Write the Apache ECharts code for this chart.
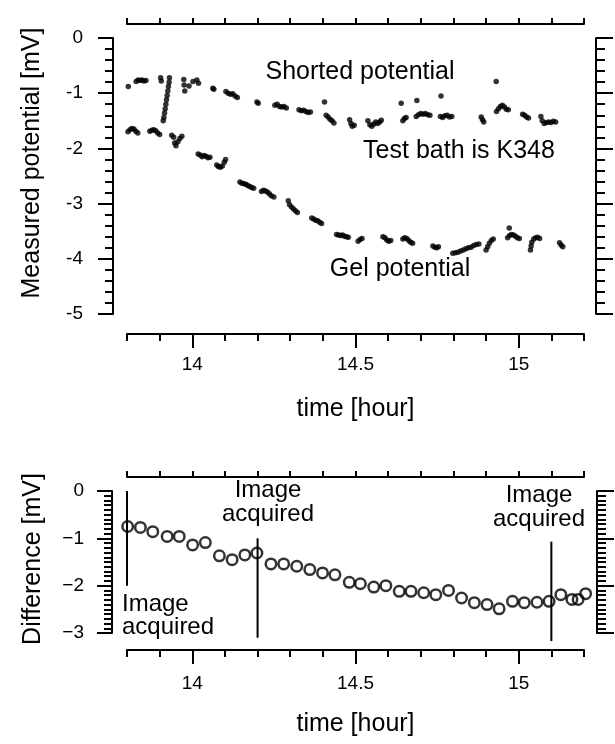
<!DOCTYPE html>
<html>
<head>
<meta charset="utf-8">
<script src="https://cdn.jsdelivr.net/npm/echarts@6/dist/echarts.min.js"></script>
<style>
  html, body { margin: 0; padding: 0; background: #fff; }
  #chart { width: 615px; height: 744px; }
</style>
</head>
<body>
<div id="chart"></div>
<script>
// Shorted electrode potential, [time (hour), potential (mV)]
const shortedPotential = [
  [13.804,-0.88],
  [13.828,-0.79],[13.834,-0.76],[13.840,-0.77],[13.846,-0.76],[13.852,-0.78],[13.858,-0.77],
  [13.903,-0.72],[13.905,-0.78],
  [13.930,-0.72],[13.929,-0.80],[13.927,-0.88],[13.925,-0.96],[13.923,-1.04],[13.921,-1.12],
  [13.919,-1.20],[13.917,-1.28],[13.915,-1.36],[13.913,-1.44],[13.911,-1.50],
  [13.974,-0.75],[13.975,-0.85],[13.977,-0.96],[13.990,-0.87],[14.002,-0.79],[14.014,-0.76],[14.019,-0.82],
  [14.063,-0.91],[14.066,-0.93],
  [14.103,-0.97],[14.110,-1.00],[14.117,-1.02],[14.124,-1.01],[14.131,-1.05],[14.138,-1.08],
  [14.198,-1.16],[14.202,-1.18],
  [14.253,-1.22],[14.260,-1.20],[14.267,-1.24],[14.274,-1.25],[14.281,-1.24],[14.288,-1.27],
  [14.327,-1.30],[14.334,-1.32],[14.341,-1.31],[14.348,-1.33],[14.355,-1.35],[14.362,-1.34],
  [14.405,-1.16],
  [14.410,-1.40],[14.416,-1.43],[14.422,-1.47],[14.428,-1.50],[14.434,-1.54],
  [14.482,-1.48],[14.486,-1.55],[14.490,-1.60],[14.496,-1.58],
  [14.538,-1.50],[14.544,-1.57],[14.550,-1.60],[14.556,-1.56],[14.562,-1.52],[14.568,-1.55],[14.574,-1.52],[14.579,-1.49],
  [14.640,-1.18],
  [14.645,-1.50],[14.650,-1.46],[14.655,-1.44],
  [14.688,-1.13],
  [14.686,-1.42],[14.693,-1.39],[14.700,-1.37],[14.707,-1.38],[14.714,-1.37],[14.721,-1.39],[14.728,-1.40],
  [14.762,-1.05],
  [14.760,-1.42],[14.767,-1.44],[14.774,-1.41],[14.781,-1.40],[14.788,-1.43],[14.795,-1.42],
  [14.885,-1.43],[14.889,-1.48],[14.893,-1.52],
  [14.931,-0.79],
  [14.932,-1.33],[14.938,-1.28],[14.944,-1.24],[14.950,-1.22],[14.956,-1.25],[14.962,-1.29],[14.968,-1.30],
  [15.012,-1.38],[15.018,-1.40],[15.024,-1.43],[15.030,-1.45],
  [15.068,-1.42],[15.072,-1.50],[15.078,-1.55],[15.085,-1.53],[15.092,-1.52],[15.099,-1.53],[15.106,-1.51],[15.113,-1.52]
];

// Gel electrode potential, [time (hour), potential (mV)]
const gelPotential = [
  [13.803,-1.70],[13.809,-1.66],[13.815,-1.64],[13.821,-1.65],[13.827,-1.69],[13.833,-1.72],
  [13.870,-1.69],[13.876,-1.67],[13.882,-1.66],[13.888,-1.68],[13.894,-1.72],[13.900,-1.75],
  [13.937,-1.76],[13.943,-1.80],[13.946,-1.90],[13.950,-1.95],[13.956,-1.88],[13.962,-1.82],[13.968,-1.78],
  [14.018,-2.10],[14.024,-2.12],[14.030,-2.15],[14.036,-2.13],[14.042,-2.14],[14.048,-2.17],[14.054,-2.16],
  [14.075,-2.30],[14.080,-2.33],[14.086,-2.34],[14.092,-2.32],[14.098,-2.25],[14.102,-2.20],
  [14.146,-2.61],[14.152,-2.63],[14.158,-2.64],[14.164,-2.65],[14.170,-2.67],[14.176,-2.69],[14.182,-2.71],[14.188,-2.72],
  [14.212,-2.78],[14.218,-2.76],[14.224,-2.77],[14.230,-2.79],[14.236,-2.82],[14.242,-2.86],[14.250,-2.88],
  [14.294,-2.95],[14.298,-3.02],[14.304,-3.06],[14.310,-3.10],[14.316,-3.13],[14.322,-3.16],
  [14.366,-3.26],[14.372,-3.28],[14.378,-3.30],[14.384,-3.31],[14.390,-3.34],[14.396,-3.36],
  [14.442,-3.56],[14.448,-3.57],[14.454,-3.58],[14.460,-3.57],[14.466,-3.59],[14.472,-3.60],[14.478,-3.61],
  [14.508,-3.68],[14.514,-3.65],[14.520,-3.63],
  [14.584,-3.60],[14.590,-3.62],[14.596,-3.66],[14.602,-3.68],[14.608,-3.67],
  [14.645,-3.64],[14.651,-3.62],[14.657,-3.63],[14.663,-3.67],[14.669,-3.70],[14.675,-3.72],
  [14.737,-3.77],[14.743,-3.79],[14.749,-3.80],[14.754,-3.78],
  [14.798,-3.90],[14.806,-3.89],[14.814,-3.88],[14.822,-3.86],[14.830,-3.84],[14.838,-3.82],
  [14.846,-3.80],[14.854,-3.79],[14.862,-3.76],[14.870,-3.74],[14.878,-3.73],
  [14.900,-3.84],[14.905,-3.78],[14.910,-3.72],[14.916,-3.67],[14.922,-3.64],
  [14.971,-3.44],
  [14.966,-3.62],[14.972,-3.58],[14.978,-3.56],[14.984,-3.57],[14.990,-3.59],[14.996,-3.62],[15.002,-3.63],
  [15.036,-3.84],[15.038,-3.77],[15.040,-3.70],[15.046,-3.64],[15.052,-3.62],[15.058,-3.61],[15.064,-3.63],
  [15.125,-3.71],[15.130,-3.75],[15.135,-3.78]
];

// Gel minus shorted potential
const differenceTime = [
  13.802, 13.841, 13.879, 13.923, 13.960, 14.001, 14.040, 14.083, 14.122, 14.161,
  14.198, 14.241, 14.280, 14.320, 14.360, 14.399, 14.437, 14.481, 14.515, 14.556,
  14.593, 14.634, 14.670, 14.709, 14.746, 14.785, 14.825, 14.864, 14.903, 14.940,
  14.981, 15.017, 15.056, 15.093, 15.129, 15.163, 15.182, 15.205
];
const differenceValue = [
  -0.75, -0.77, -0.86, -0.96, -0.96, -1.14, -1.09, -1.37, -1.45, -1.35,
  -1.31, -1.54, -1.54, -1.59, -1.66, -1.73, -1.77, -1.93, -1.96, -2.03,
  -2.00, -2.12, -2.12, -2.15, -2.19, -2.10, -2.26, -2.36, -2.40, -2.49,
  -2.33, -2.36, -2.35, -2.33, -2.19, -2.29, -2.29, -2.17
];

// Moments an image was acquired, with the vertical extent of each marker line (mV)
const acquiredTimes = [13.8, 14.2, 15.1];
const acquiredFrom = [0, -1.0, -1.07];
const acquiredTo = [-2.0, -3.1, -3.17];

// Axis ranges and labelled time ticks
const timeRange = [13.8, 15.2];
const timeLabelTicks = [14, 14.5, 15];
const potentialRange = [-5, 0];
const differenceRange = [-3, 0];

const FONT = '"Liberation Sans", Arial, Helvetica, sans-serif';
const INK = '#000';
const LINE_W = 2;
const TICK_FONT = 19;

const chart = echarts.init(document.getElementById('chart'), null, { renderer: 'canvas' });

function timeAxes(gridIndex, bottomOffset, topOffset, labelMargin, nameGap) {
  const base = {
    type: 'value', gridIndex, min: timeRange[0], max: timeRange[1],
    splitLine: { show: false },
    axisLine: { onZero: false, lineStyle: { color: INK, width: LINE_W } }
  };
  return [
    // bottom axis: small ticks every 0.1 h
    Object.assign({}, base, {
      position: 'bottom', offset: bottomOffset, interval: 0.1,
      axisTick: { length: 7, lineStyle: { color: INK, width: LINE_W } },
      axisLabel: { show: false }
    }),
    // bottom axis: long ticks and labels at whole and half hours
    Object.assign({}, base, {
      position: 'bottom', offset: bottomOffset,
      axisLine: { show: false, onZero: false },
      axisTick: { length: 14, customValues: timeLabelTicks, lineStyle: { color: INK, width: LINE_W } },
      axisLabel: { customValues: timeLabelTicks, margin: labelMargin, color: INK, fontSize: TICK_FONT, fontFamily: FONT },
      name: 'time [hour]', nameLocation: 'middle', nameGap: nameGap,
      nameTextStyle: { color: INK, fontSize: 25, fontFamily: FONT }
    }),
    // top mirror axis
    Object.assign({}, base, {
      position: 'top', offset: topOffset, interval: 0.1,
      axisTick: { length: 6, lineStyle: { color: INK, width: LINE_W } },
      axisLabel: { show: false }
    })
  ];
}

function valueAxes(gridIndex, range, leftOffset, rightOffset, minorSplit, labelMargin, formatter) {
  const base = {
    type: 'value', gridIndex, min: range[0], max: range[1], interval: 1,
    splitLine: { show: false }, minorSplitLine: { show: false },
    axisLine: { onZero: false, lineStyle: { color: INK, width: LINE_W } }
  };
  return [
    Object.assign({}, base, {
      position: 'left', offset: leftOffset,
      axisTick: { length: 15, lineStyle: { color: INK, width: LINE_W } },
      minorTick: { show: true, splitNumber: minorSplit, length: 8, lineStyle: { color: INK, width: LINE_W } },
      axisLabel: { margin: labelMargin, color: INK, fontSize: TICK_FONT, fontFamily: FONT, formatter }
    }),
    Object.assign({}, base, {
      position: 'right', offset: rightOffset,
      axisTick: { length: 17, lineStyle: { color: INK, width: LINE_W } },
      minorTick: { show: true, splitNumber: minorSplit, length: 9, lineStyle: { color: INK, width: LINE_W } },
      axisLabel: { show: false }
    })
  ];
}

const textStyle = (text, size, extra) => Object.assign({
  text, fill: INK, fontSize: size, fontFamily: FONT, align: 'center', verticalAlign: 'middle'
}, extra || {});

// one vertical line per image acquisition, drawn in the difference panel
const acquiredSeries = acquiredTimes.map((t, i) => ({
  name: 'Image acquired ' + (i + 1), type: 'line', xAxisIndex: 3, yAxisIndex: 2,
  data: [[t, acquiredFrom[i]], [t, acquiredTo[i]]],
  clip: false, showSymbol: false, symbol: 'none', silent: true,
  lineStyle: { color: INK, width: 2 }, z: 1
}));

const option = {
  animation: false,
  backgroundColor: '#fff',
  grid: [
    { left: 127, width: 457, top: 38, height: 276 },
    { left: 127, width: 457, top: 491, height: 142 }
  ],
  xAxis: [
    ...timeAxes(0, 20, 14, 21, 63),
    ...timeAxes(1, 17, 14, 24, 62)
  ],
  yAxis: [
    ...valueAxes(0, potentialRange, 14, 12, 5, 30, v => String(v)),
    ...valueAxes(1, differenceRange, 15, 13, 10, 28, v => String(v).replace('-', '\u2212'))
  ],
  series: [
    {
      name: 'Shorted potential', type: 'scatter', xAxisIndex: 0, yAxisIndex: 0,
      data: shortedPotential, symbol: 'circle', symbolSize: 5.5,
      itemStyle: { color: INK }, silent: true
    },
    {
      name: 'Gel potential', type: 'scatter', xAxisIndex: 0, yAxisIndex: 0,
      data: gelPotential, symbol: 'circle', symbolSize: 5.5,
      itemStyle: { color: INK }, silent: true
    },
    ...acquiredSeries,
    {
      name: 'Difference', type: 'scatter', xAxisIndex: 3, yAxisIndex: 2,
      data: differenceTime.map((t, i) => [t, differenceValue[i]]),
      symbol: 'circle', symbolSize: 10.5, clip: false, z: 3,
      itemStyle: { color: 'rgba(255,255,255,0)', borderColor: INK, borderWidth: 2.5 },
      silent: true
    }
  ],
  graphic: [
    { type: 'text', x: 32, y: 163, rotation: Math.PI / 2, style: textStyle('Measured potential [mV]', 25) },
    { type: 'text', x: 33, y: 559, rotation: Math.PI / 2, style: textStyle('Difference [mV]', 25) },
    { type: 'text', x: 360, y: 72, style: textStyle('Shorted potential', 25) },
    { type: 'text', x: 459, y: 151, style: textStyle('Test bath is K348', 25) },
    { type: 'text', x: 400, y: 269, style: textStyle('Gel potential', 25) },
    { type: 'text', x: 268, y: 502, style: textStyle('Image\nacquired', 24, { lineHeight: 24 }) },
    { type: 'text', x: 539, y: 507, style: textStyle('Image\nacquired', 24, { lineHeight: 24 }) },
    { type: 'text', x: 122, y: 616, style: textStyle('Image\nacquired', 24, { lineHeight: 23, align: 'left' }) }
  ]
};

chart.setOption(option);
</script>
</body>
</html>
